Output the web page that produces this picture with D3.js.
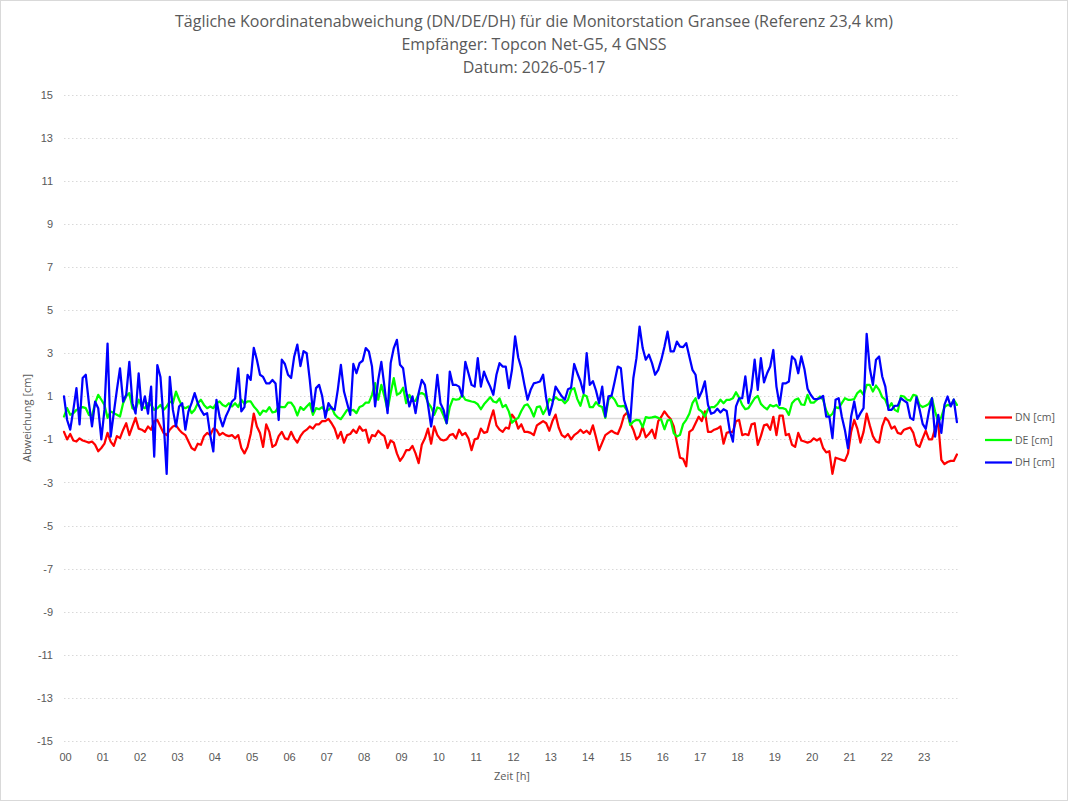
<!DOCTYPE html>
<html lang="de">
<head>
<meta charset="utf-8">
<title>Koordinatenabweichung Gransee</title>
<script src="https://cdn.jsdelivr.net/npm/d3@7"></script>
<style>
  body { margin: 0; background: #fff; }
  svg { display: block; font-family: "Open Sans", "Liberation Sans", sans-serif; }
</style>
</head>
<body>
<svg id="chart" width="1068" height="801"></svg>
<script>
// --- data (5 minute samples, one row per hour) ---
const titleLines = [
    "Tägliche Koordinatenabweichung (DN/DE/DH) für die Monitorstation Gransee (Referenz 23,4 km)",
    "Empfänger: Topcon Net-G5, 4 GNSS",
    "Datum: 2026-05-17"
];
const hourLabels = ["00","01","02","03","04","05","06","07","08","09","10","11",
                    "12","13","14","15","16","17","18","19","20","21","22","23"];
const yTickValues = [15, 13, 11, 9, 7, 5, 3, 1, -1, -3, -5, -7, -9, -11, -13, -15];
const minutesPerSample = 5;

const seriesNames = ["DN [cm]", "DE [cm]", "DH [cm]"];
const seriesColors = ["#ff0000", "#00ff00", "#0000ff"];

const dn = [
    -0.65, -1.0, -0.75, -1.05, -1.1, -0.95, -1.05, -1.1, -1.15, -1.1, -1.25, -1.55,
    -1.4, -1.2, -0.7, -1.1, -1.3, -0.85, -0.94, -0.56, -0.25, -0.8, -0.4, 0,
    -0.5, -0.55, -0.65, -0.4, -0.55, -0.15, -0.1, -0.4, -0.7, -0.8, -0.55, -0.4,
    -0.35, -0.55, -0.7, -0.8, -1.1, -1.4, -1.5, -1.2, -1.25, -0.85, -0.7, -0.8,
    -0.5, -0.55, -0.8, -0.7, -0.8, -0.85, -0.8, -0.95, -0.8, -1.4, -1.65, -1.35,
    -0.75, 0.2, -0.4, -0.7, -1.35, -0.3, -0.65, -1.35, -1.25, -0.85, -0.65, -0.95,
    -1.0, -0.65, -0.95, -1.15, -0.85, -0.65, -0.55, -0.4, -0.5, -0.3, -0.3, -0.15,
    -0.15, -0.05, -0.25, -0.5, -0.95, -0.65, -1.15, -0.8, -0.75, -0.55, -0.7, -0.4,
    -0.6, -0.55, -1.15, -0.8, -0.85, -0.6, -0.75, -0.85, -1.4, -1.05, -1.15, -1.65,
    -2.0, -1.8, -1.5, -1.5, -1.3, -1.65, -2.1, -1.25, -0.95, -0.5, -1.2, -0.4,
    -0.8, -1.0, -1.05, -1.0, -0.8, -0.75, -0.95, -0.55, -0.8, -0.7, -0.95, -1.5,
    -1.0, -0.95, -0.5, -0.7, -0.65, -0.1, 0.35, -0.35, -0.55, -0.65, -0.45, -0.5,
    0.15, -0.05, -0.5, -0.3, -0.65, -0.65, -0.7, -0.8, -0.35, -0.25, -0.15, -0.25,
    -0.6, -0.15, 0.15, -0.45, -0.8, -0.9, -0.75, -1.0, -0.8, -0.7, -0.55, -0.7,
    -0.6, -0.75, -0.35, -0.9, -1.5, -1.15, -0.8, -0.7, -0.6, -0.7, -0.75, -0.4,
    0.1, 0.25, -0.25, -0.55, -1.0, -0.85, -0.4, -0.9, -0.75, -0.55, -0.95, -0.15,
    0.05, 0.3, 0.1, -0.05, -0.4, -1.15, -1.85, -1.9, -2.25, -0.65, -0.55, -0.25,
    0.05, -0.15, 0.3, -0.65, -0.65, -0.55, -0.5, -0.4, -1.2, -0.7, -0.65, -0.65,
    -0.15, -0.1, -0.8, -0.75, -0.8, -0.3, -0.25, -1.25, -0.85, -0.35, -0.3, -0.55,
    0.05, -0.8, 0.1, 0.1, -0.8, -0.75, -1.25, -1.35, -0.7, -1.05, -1.1, -1.15,
    -1.1, -0.95, -1.05, -0.95, -1.4, -1.6, -1.55, -2.6, -1.85, -1.9, -1.95, -2.0,
    -1.65, -0.65, -0.1, -0.5, -1.15, -0.65, 0.2, -0.35, -0.85, -1.1, -1.15, -0.4,
    0, -0.15, -0.5, -0.4, -0.7, -0.75, -0.55, -0.5, -0.45, -0.7, -1.25, -1.35,
    -0.95, -0.6, -1.0, -1.0, -0.5, -0.25, -1.95, -2.15, -2.05, -2.0, -2.0, -1.7
];

const de = [
    0.06, 0.45, 0.14, 0.22, 0.37, 0.45, 0.5, 0.45, 0.14, 0.1, 0.68, 1.07,
    0.84, 0.6, 0, 0.29, 0.22, 0.14, 0.06, 0.68, 1.0, 1.15, 0.45, 0.37,
    0.84, 0.53, 0.45, 0.68, 0.6, 0.37, 0.45, 0.6, 0.37, 0.53, 0.76, 0.68,
    1.22, 0.84, 0.53, 0.45, 0.53, 0.22, 0.37, 0.68, 0.84, 0.6, 0.45, 0.53,
    0.45, 0.68, 0.76, 0.6, 0.53, 0.68, 0.53, 0.68, 0.5, 0.84, 0.65, 0.76,
    0.76, 0.53, 0.37, 0.14, 0.34, 0.29, 0.5, 0.25, 0.29, 0.53, 0.5, 0.5,
    0.71, 0.71, 0.5, 0.11, 0.5, 0.37, 0.53, 0.68, 0.14, 0.45, 0.4, 0.5,
    0.29, 0.37, 0.5, 0.17, 0.02, -0.06, 0.15, 0.37, 0.34, 0.37, 0.22, 0.5,
    0.56, 0.71, 0.71, 1.07, 1.61, 0.84, 1.53, 0.99, 0.37, 1.15, 1.84, 1.07,
    1.15, 1.4, 0.68, 1.07, 0.79, 0.79, 1.11, 1.15, 1.07, 0.71, 0.5, 0.14,
    0.48, 0.43, 0.11, -0.25, 0.5, 0.88, 0.84, 0.87, 1.07, 0.84, 0.8, 0.76,
    0.73, 0.63, 0.4, 0.63, 0.79, 0.96, 0.76, 0.71, 0.9, 0.5, 0.6, 0.29,
    -0.22, -0.09, 0, 0.32, 0.57, 0.63, 0.4, 0.06, 0.5, 0.53, 0.17, 0.42,
    0.88, 0.79, 0.96, 0.84, 0.84, 0.68, 0.84, 1.3, 1.38, 0.87, 0.56, 1.07,
    1.0, 0.5, 0.5, 0.73, 0.56, 0.5, 0, 0.84, 1.0, 0.84, 0.56, 0.53,
    0.56, 0.34, -0.33, -0.17, -0.09, -0.12, -0.43, 0.03, 0, 0.02, 0.06, 0,
    -0.09, -0.53, -0.12, -0.09, -0.71, -0.87, -0.79, -0.29, -0.09, 0.19, 0.68, 0.91,
    0.4, 0.29, 0.06, 0.4, 0.5, 0.5, 0.63, 0.84, 0.68, 0.84, 0.84, 0.91,
    1.19, 0.94, 0.6, 0.4, 0.45, 0.68, 0.91, 1.02, 0.65, 0.5, 0.4, 0.6,
    0.53, 0.6, 0.45, 0.45, 0.4, 0.14, 0.68, 0.84, 0.9, 0.62, 0.6, 1.07,
    0.71, 0.71, 0.84, 0.99, 0.84, 0.34, 0.06, 0.19, 0.5, 0.45, 0.68, 0.91,
    0.84, 0.84, 0.87, 1.15, 1.27, 1.07, 1.53, 1.53, 1.22, 1.5, 1.3, 0.96,
    0.84, 0.45, 0.68, 0.37, 0.29, 1.02, 0.99, 0.84, 0.8, 1.07, 1.02, 0.6,
    0.5, 0.56, 0.65, 0.91, 0.29, -0.17, 0.03, 0.5, 0.6, 0.56, 0.84, 0.6
];

const dh = [
    1.0, -0.1, -0.55, 0.37, 1.38, -0.3, 1.85, 2.0, 0.7, -0.4, 0.75, 0.45,
    -1.0, 0.37, 3.45, -0.87, 0.22, 1.3, 2.3, 0.75, 1.07, 2.6, 0.68, 0.2,
    2.07, 0.37, 1.0, 0.2, 1.45, -1.8, 2.45, 1.9, -0.1, -2.6, 1.9, 0.37,
    -0.4, 0.53, 0.68, -0.55, 0.3, 0.68, 1.15, 0.68, 0.37, 0.14, 0.22, -0.8,
    -1.56, 0.84, 0.06, -0.4, 0.06, 0.37, 0.76, 0.9, 2.3, 0.3, 0.5, 2.0,
    1.76, 3.25, 2.7, 2.0, 1.9, 1.6, 1.6, 1.76, 1.6, -0.1, 2.7, 2.5,
    2.0, 1.85, 2.85, 3.4, 2.4, 3.1, 3.0, 1.76, 0.3, 1.38, 1.53, 1.0,
    0.0, 0.68, 0.45, 0.37, 1.3, 2.46, 1.22, 0.68, 0.14, 2.5, 2.07, 2.54,
    2.65, 3.24, 3.08, 2.38, 0.53, 1.76, 2.6, 1.45, 0.22, 2.54, 3.24, 3.62,
    2.46, 2.3, 1.22, 0.53, 1.0, 0.22, 1.15, 1.76, 1.53, 0.6, -0.4, 0.53,
    2.0, 0.68, 0.37, -0.25, 2.15, 1.53, 1.53, 1.45, 1.0, 2.6, 2.07, 1.53,
    1.45, 2.77, 1.45, 2.15, 1.76, 1.45, 1.07, 2.0, 2.54, 2.38, 2.38, 1.38,
    2.23, 3.78, 2.8, 2.3, 1.53, 0.84, 1.3, 1.6, 1.64, 1.69, 2.0, 0.91,
    0.14, 0.65, 1.45, 1.22, 1.0, 0.84, 1.33, 1.4, 2.5, 2.07, 1.7, 1.15,
    3.0, 1.53, 1.7, 1.27, 0.68, 1.45, 0.06, 1.0, 1.03, 1.69, 2.38, 2.3,
    0.84, 0.37, -0.17, 1.84, 2.77, 4.24, 3.24, 2.7, 2.93, 2.54, 2.0, 2.23,
    2.7, 3.3, 4.0, 3.08, 3.08, 3.54, 3.31, 3.28, 3.47, 2.85, 2.23, 2.0,
    0.91, 1.22, 1.69, 0.6, 0.19, 0.25, 0.42, 0.25, 0.4, 0.32, -0.6, -1.1,
    0.53, 0.9, 0.91, 1.92, 0.68, 1.38, 2.7, 1.3, 2.77, 1.65, 2.07, 2.38,
    3.15, 1.45, 0.6, 1.6, 1.6, 1.69, 2.85, 2.7, 2.07, 2.85, 2.26, 1.35,
    1.07, 0.88, 0.87, 0.91, 1.02, 0.06, 0.06, -0.94, 0.84, 0.91, 0.06, -0.56,
    -1.41, 0.06, 0.76, -0.05, 0.22, 0.45, 3.9, 2.3, 1.53, 2.7, 2.85, 1.92,
    1.45, 0.37, 0.37, 0.56, 0.57, 0.91, 0.8, 0.7, 0, -0.09, 0.96, 0.4,
    -0.28, -0.51, 0.29, 0.91, -0.87, 0.14, -0.7, 0.6, 0.99, 0.53, 0.85, -0.2
];

// --- layout ---
const textColor = "#595959";
const gridColor = "#d9d9d9";
const plot = { left: 64, right: 960, top: 94.7, bottom: 741 };

const svg = d3.select("#chart");

// outer frame of the chart
svg.append("rect")
    .attr("x", 0.5).attr("y", 0.5)
    .attr("width", 1067).attr("height", 800)
    .attr("fill", "#fff")
    .attr("stroke", gridColor);

const x = d3.scaleLinear().domain([0, 24]).range([plot.left, plot.right]);
const y = d3.scaleLinear().domain([-15, 15]).range([plot.bottom, plot.top]);

// title
svg.append("g")
    .selectAll("text")
    .data(titleLines)
    .enter()
    .append("text")
    .attr("x", 534)
    .attr("y", (d, i) => 27 + i * 23)
    .attr("text-anchor", "middle")
    .attr("font-size", 16)
    .attr("fill", textColor)
    .text(d => d);

// dotted gridlines at the labelled values, solid line at zero
svg.append("g")
    .selectAll("line")
    .data(yTickValues)
    .enter()
    .append("line")
    .attr("x1", plot.left).attr("x2", plot.right - 1)
    .attr("y1", d => Math.round(y(d)) + 0.5)
    .attr("y2", d => Math.round(y(d)) + 0.5)
    .attr("stroke", gridColor)
    .attr("stroke-dasharray", "1.5,2.5");

svg.append("line")
    .attr("x1", plot.left).attr("x2", plot.right - 1)
    .attr("y1", Math.round(y(0)) + 0.5).attr("y2", Math.round(y(0)) + 0.5)
    .attr("stroke", gridColor)
    .attr("stroke-width", 1.3);

// y axis labels (plain hyphen for negatives, as in the original)
const yAxis = svg.append("g")
    .attr("transform", `translate(${plot.left},0)`)
    .call(d3.axisLeft(y)
        .tickValues(yTickValues)
        .tickFormat(d => String(d))
        .tickSize(0)
        .tickPadding(11));
yAxis.select(".domain").remove();
yAxis.selectAll("text")
    .attr("fill", textColor)
    .attr("font-size", 11)
    .attr("font-family", null);

// x axis labels, one per hour
const xAxis = svg.append("g")
    .attr("transform", `translate(1,${plot.bottom})`)
    .call(d3.axisBottom(x)
        .tickValues(d3.range(hourLabels.length))
        .tickFormat(d => hourLabels[d])
        .tickSize(0)
        .tickPadding(12));
xAxis.select(".domain").remove();
xAxis.selectAll("text")
    .attr("fill", textColor)
    .attr("font-size", 11)
    .attr("font-family", null);

// axis titles
svg.append("text")
    .attr("x", (plot.left + plot.right) / 2)
    .attr("y", 780)
    .attr("text-anchor", "middle")
    .attr("font-size", 11)
    .attr("fill", textColor)
    .text("Zeit [h]");

svg.append("text")
    .attr("transform", "translate(31,418) rotate(-90)")
    .attr("text-anchor", "middle")
    .attr("font-size", 11)
    .attr("fill", textColor)
    .text("Abweichung [cm]");

// series lines
const allSeries = [dn, de, dh];
const line = d3.line()
    .x((d, i) => x(i * minutesPerSample / 60))
    .y(d => y(d));

svg.append("g")
    .selectAll("path")
    .data(allSeries)
    .enter()
    .append("path")
    .attr("d", d => line(d))
    .attr("fill", "none")
    .attr("stroke", (d, i) => seriesColors[i])
    .attr("stroke-width", 2.25)
    .attr("stroke-linejoin", "round")
    .attr("stroke-linecap", "round");

// legend on the right
const legend = svg.append("g")
    .selectAll("g")
    .data(seriesNames)
    .enter()
    .append("g")
    .attr("transform", (d, i) => `translate(985,${417.5 + i * 22.5})`);

legend.append("line")
    .attr("x1", 0).attr("x2", 27)
    .attr("stroke", (d, i) => seriesColors[i])
    .attr("stroke-width", 2.25);

legend.append("text")
    .attr("x", 30)
    .attr("dy", "0.35em")
    .attr("font-size", 10.5)
    .attr("fill", textColor)
    .text(d => d);
</script>
</body>
</html>
